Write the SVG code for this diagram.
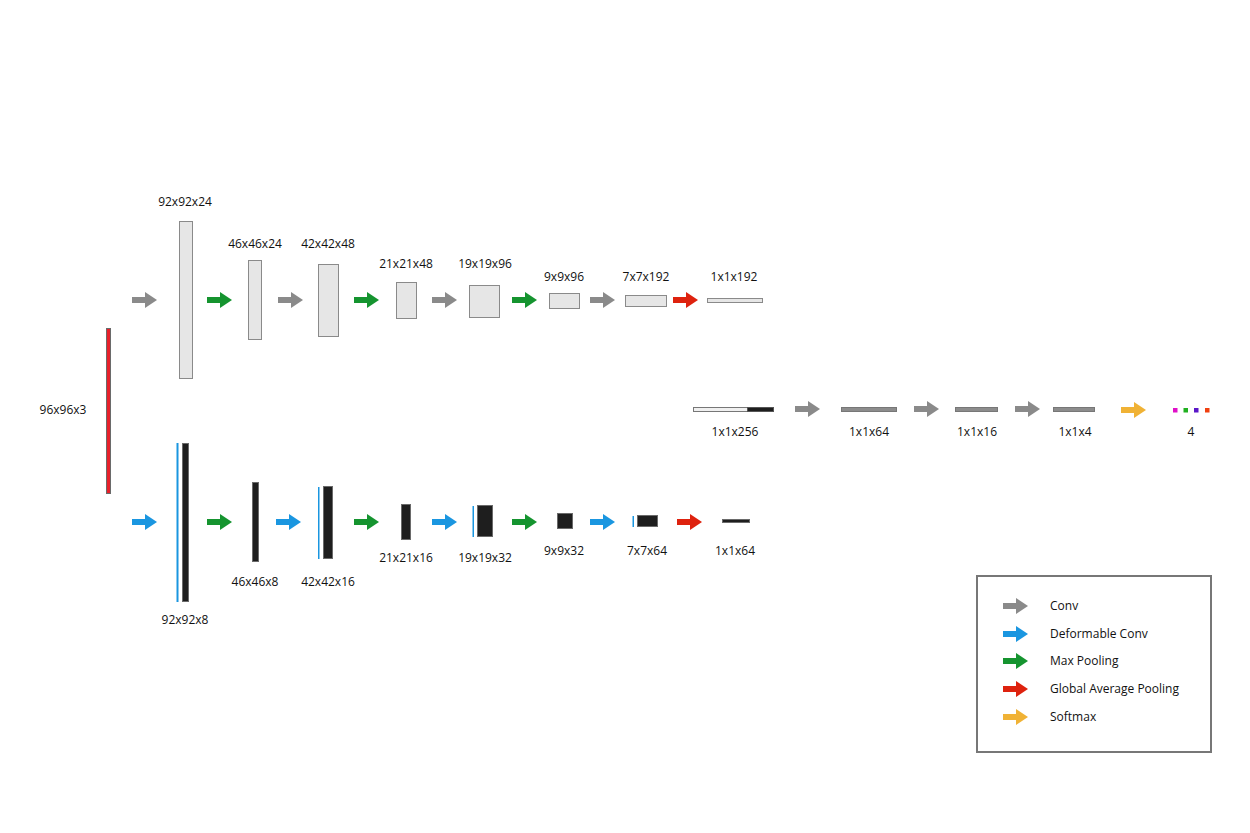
<svg xmlns="http://www.w3.org/2000/svg" xmlns:xlink="http://www.w3.org/1999/xlink" width="1250" height="833" viewBox="0 0 1250 833">
<style>
text{font-family:"Open Sans","Liberation Sans",sans-serif;font-size:12px;fill:#111}
.c{text-anchor:middle}
.lt{fill:#e6e6e6;stroke:#8a8a8a;stroke-width:1}
.dk{fill:#1e1e1e;stroke:#6a6a6a;stroke-width:1}
.gb{fill:#8c8c8c;stroke:#777;stroke-width:1}
.bl{fill:#1a96e0}
.conv{fill:#8a8a8a}
.dconv{fill:#1a96e0}
.pool{fill:#15942f}
.gap{fill:#de220e}
.soft{fill:#f0b235}
</style>
<defs>
<path id="arr" d="M0,-3H13V-8L25,0L13,8V3H0Z"/>
</defs>
<rect width="1250" height="833" fill="#fff"/>
<g id="connectors">
<use href="#arr" class="conv" x="132" y="300"/>
<use href="#arr" class="pool" x="207" y="300"/>
<use href="#arr" class="conv" x="278" y="300"/>
<use href="#arr" class="pool" x="354" y="300"/>
<use href="#arr" class="conv" x="432" y="300"/>
<use href="#arr" class="pool" x="512" y="300"/>
<use href="#arr" class="conv" x="590" y="300"/>
<use href="#arr" class="gap" x="673" y="300"/>
<use href="#arr" class="dconv" x="132" y="522"/>
<use href="#arr" class="pool" x="207" y="522"/>
<use href="#arr" class="dconv" x="276" y="522"/>
<use href="#arr" class="pool" x="354" y="522"/>
<use href="#arr" class="dconv" x="432" y="522"/>
<use href="#arr" class="pool" x="512" y="522"/>
<use href="#arr" class="dconv" x="590" y="522"/>
<use href="#arr" class="gap" x="677" y="522"/>
<use href="#arr" class="conv" x="795" y="409"/>
<use href="#arr" class="conv" x="914" y="409"/>
<use href="#arr" class="conv" x="1015" y="409"/>
<use href="#arr" class="soft" x="1121" y="410"/>
</g>
<g id="input">
<rect x="106.5" y="328.5" width="4" height="165" fill="#e8202a" stroke="#6a6a6a"/>
<text x="63" y="413.5" class="c">96x96x3</text>
</g>
<g id="top-92x92x24"><rect class="lt" x="179.5" y="221.5" width="13" height="157"/><text x="185" y="205.5" class="c">92x92x24</text></g>
<g id="top-46x46x24"><rect class="lt" x="248.5" y="260.5" width="13" height="79"/><text x="255" y="248" class="c">46x46x24</text></g>
<g id="top-42x42x48"><rect class="lt" x="318.5" y="264.5" width="20" height="72"/><text x="328" y="248" class="c">42x42x48</text></g>
<g id="top-21x21x48"><rect class="lt" x="396.5" y="282.5" width="20" height="36"/><text x="406" y="268" class="c">21x21x48</text></g>
<g id="top-19x19x96"><rect class="lt" x="469.5" y="285.5" width="30" height="32"/><text x="485" y="268" class="c">19x19x96</text></g>
<g id="top-9x9x96"><rect class="lt" x="549.5" y="293.5" width="30" height="15"/><text x="564" y="281" class="c">9x9x96</text></g>
<g id="top-7x7x192"><rect class="lt" x="625.5" y="295.5" width="41" height="11"/><text x="646" y="281" class="c">7x7x192</text></g>
<g id="top-1x1x192"><rect class="lt" x="707.5" y="298.5" width="55" height="4"/><text x="734" y="281" class="c">1x1x192</text></g>
<g id="bot-92x92x8"><rect class="bl" x="176.5" y="443" width="2" height="159"/><rect class="dk" x="182.5" y="443.5" width="6" height="158"/><text x="185" y="624" class="c">92x92x8</text></g>
<g id="bot-46x46x8"><rect class="dk" x="252.5" y="482.5" width="6" height="79"/><text x="255" y="586" class="c">46x46x8</text></g>
<g id="bot-42x42x16"><rect class="bl" x="318" y="487" width="1.5" height="72"/><rect class="dk" x="323.5" y="486.5" width="9" height="72"/><text x="328" y="586" class="c">42x42x16</text></g>
<g id="bot-21x21x16"><rect class="dk" x="401.5" y="504.5" width="9" height="35"/><text x="406" y="562" class="c">21x21x16</text></g>
<g id="bot-19x19x32"><rect class="bl" x="472.5" y="506" width="1.5" height="31"/><rect class="dk" x="477.5" y="505.5" width="15" height="31"/><text x="485" y="562" class="c">19x19x32</text></g>
<g id="bot-9x9x32"><rect class="dk" x="557.5" y="513.5" width="15" height="15"/><text x="564" y="555" class="c">9x9x32</text></g>
<g id="bot-7x7x64"><rect class="bl" x="632.5" y="516" width="1.5" height="11"/><rect class="dk" x="637.5" y="515.5" width="20" height="11"/><text x="647" y="555" class="c">7x7x64</text></g>
<g id="bot-1x1x64"><rect class="dk" x="722.5" y="519.5" width="27" height="3"/><text x="735" y="555" class="c">1x1x64</text></g>
<g id="mid-1x1x256"><rect x="693.5" y="407.5" width="54" height="4" fill="#f0f0f0" stroke="#777"/><rect x="747.5" y="407.5" width="26" height="4" fill="#1e1e1e" stroke="#555"/><text x="735" y="436" class="c">1x1x256</text></g>
<g id="mid-1x1x64"><rect class="gb" x="841.5" y="407.5" width="55" height="4"/><text x="869" y="436" class="c">1x1x64</text></g>
<g id="mid-1x1x16"><rect class="gb" x="955.5" y="407.5" width="42" height="4"/><text x="977" y="436" class="c">1x1x16</text></g>
<g id="mid-1x1x4"><rect class="gb" x="1053.5" y="407.5" width="41" height="4"/><text x="1075" y="436" class="c">1x1x4</text></g>
<g id="output">
<rect x="1173" y="408" width="4.5" height="4.5" fill="#e010c8"/>
<rect x="1183.5" y="408" width="4.5" height="4.5" fill="#20b020"/>
<rect x="1194" y="408" width="4.5" height="4.5" fill="#5a16c8"/>
<rect x="1205" y="408" width="4.5" height="4.5" fill="#f04010"/>
<text x="1191" y="436" class="c">4</text>
</g>
<g id="legend">
<rect x="977" y="576" width="234" height="176" fill="none" stroke="#777" stroke-width="2"/>
<use href="#arr" class="conv" x="1003" y="606"/>
<text x="1050" y="610">Conv</text>
<use href="#arr" class="dconv" x="1003" y="634"/>
<text x="1050" y="638">Deformable Conv</text>
<use href="#arr" class="pool" x="1003" y="661"/>
<text x="1050" y="665">Max Pooling</text>
<use href="#arr" class="gap" x="1003" y="689"/>
<text x="1050" y="693">Global Average Pooling</text>
<use href="#arr" class="soft" x="1003" y="717"/>
<text x="1050" y="721">Softmax</text>
</g>
</svg>
